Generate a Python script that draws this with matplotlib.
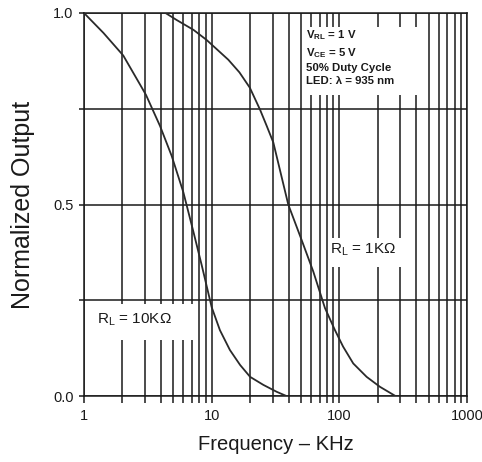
import matplotlib
matplotlib.use("Agg")
import matplotlib.pyplot as plt
from matplotlib.ticker import FixedLocator, FuncFormatter, NullFormatter
from matplotlib.patches import Rectangle

plt.rcParams['font.family'] = ['Liberation Sans', 'DejaVu Sans']
plt.rcParams['mathtext.fontset'] = 'custom'
plt.rcParams['mathtext.rm'] = 'Liberation Sans'
plt.rcParams['mathtext.it'] = 'Liberation Sans:italic'
plt.rcParams['mathtext.bf'] = 'Liberation Sans:bold'

# curve for R_L = 10 kOhm (frequency in kHz, normalized output)
freq_10k = [1.0, 1.42, 2.03, 2.75, 3.06, 3.94, 4.86, 6.0, 7.18, 8.35, 10.0,
            11.6, 13.9, 16.7, 20.0, 25.4, 32.3, 38.5]
out_10k = [1.0, 0.948, 0.889, 0.813, 0.786, 0.705, 0.627, 0.532, 0.430, 0.342,
           0.232, 0.172, 0.120, 0.081, 0.050, 0.029, 0.011, 0.0]

# curve for R_L = 1 kOhm
freq_1k = [4.35, 5.3, 7.2, 9.1, 13.5, 16.5, 19.9, 23.9, 27.0, 30.4, 39.8,
           50.7, 62.5, 77.1, 92.4, 107.0, 128.5, 163.6, 208.0, 275.0]
out_1k = [1.0, 0.982, 0.956, 0.930, 0.878, 0.845, 0.805, 0.748, 0.705, 0.662,
          0.500, 0.407, 0.325, 0.230, 0.172, 0.129, 0.085, 0.050, 0.024, 0.0]

x_major = [1, 10, 100, 1000]
x_minor = [m * d for d in (1, 10, 100) for m in range(2, 10)]
y_major = [0.0, 0.5, 1.0]
y_minor = [0.25, 0.75]

conditions = ["V$_\\mathbf{RL}$ = 1 V", "V$_\\mathbf{CE}$ = 5 V",
              "50% Duty Cycle", "LED: \u03bb = 935 nm"]
label_1k = "R$_\\mathrm{L}$ = 1K\u03a9"
label_10k = "R$_\\mathrm{L}$ = 10K\u03a9"

ink = "#1a1a1a"

fig = plt.figure(figsize=(4.82, 4.62), dpi=100)
ax = fig.add_axes([84 / 482, 1 - 396 / 462, 383 / 482, 383 / 462])

ax.set_xscale("log")
ax.set_xlim(1, 1000)
ax.set_ylim(0, 1.0)

ax.xaxis.set_major_locator(FixedLocator(x_major))
ax.xaxis.set_minor_locator(FixedLocator(x_minor))
ax.xaxis.set_major_formatter(FuncFormatter(lambda v, p: "%g" % v))
ax.xaxis.set_minor_formatter(NullFormatter())
ax.yaxis.set_major_locator(FixedLocator(y_major))
ax.yaxis.set_minor_locator(FixedLocator(y_minor))
ax.yaxis.set_major_formatter(FuncFormatter(lambda v, p: "%.1f" % v))

ax.grid(True, which="both", color=ink, lw=1.1)
ax.set_axisbelow(True)
for s in ax.spines.values():
    s.set_color(ink)
    s.set_linewidth(1.1)

ax.tick_params(axis="x", which="both", direction="out", length=5, width=1.1,
               color=ink, labelsize=10.5, labelcolor=ink, pad=4)
ax.tick_params(axis="y", which="both", direction="out", length=3.6, width=1.1,
               color=ink, labelsize=10.5, labelcolor=ink, pad=4)

ax.plot(freq_10k, out_10k, color="#2a2a2a", lw=1.3, zorder=4)
ax.plot(freq_1k, out_1k, color="#2a2a2a", lw=1.3, zorder=4)

# white boxes over the grid behind the notes
for (x0, y0, w, h) in [(0.569, 0.786, 0.314, 0.177),
                       (0.637, 0.337, 0.196, 0.076),
                       (0.012, 0.146, 0.286, 0.094)]:
    ax.add_patch(Rectangle((x0, y0), w, h, transform=ax.transAxes,
                           facecolor="white", edgecolor="none", zorder=3))

ax.text(0.58, 0.96, "\n".join(conditions), transform=ax.transAxes,
        ha="left", va="top", fontsize=8.2, fontweight="bold", color=ink,
        linespacing=1.4, zorder=5)
ax.text(0.642, 0.373, label_1k, transform=ax.transAxes, ha="left",
        va="baseline", fontsize=11, color=ink, zorder=5)
ax.text(0.034, 0.19, label_10k, transform=ax.transAxes, ha="left",
        va="baseline", fontsize=11, color=ink, zorder=5)

ax.set_xlabel("Frequency \u2013 KHz", fontsize=14.5, color=ink, labelpad=9)
ax.set_ylabel("Normalized Output", fontsize=18, color=ink, labelpad=13)

fig.savefig("out.png", dpi=100)
